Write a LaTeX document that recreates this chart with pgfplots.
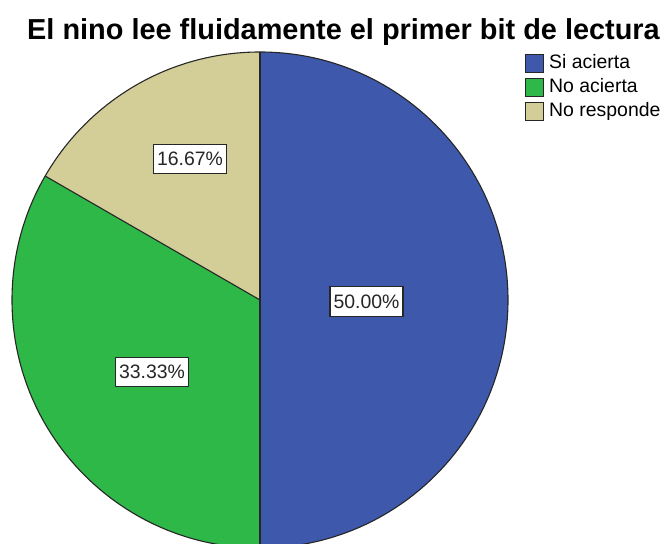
\documentclass[border=0pt]{standalone}
\usepackage{pgfplots}
\pgfplotsset{compat=1.18}
\usepackage{pgfplotstable}
\usepackage{fontspec}
\setmainfont{Liberation Sans}
\definecolor{siblue}{HTML}{3E58AC}
\definecolor{nogreen}{HTML}{2EB848}
\definecolor{notan}{HTML}{D3CE97}
\pgfplotstableread{
value
50.00
33.33
16.67
}\piedata
\pgfplotstablegetelem{0}{value}\of\piedata \let\va\pgfplotsretval
\pgfplotstablegetelem{1}{value}\of\piedata \let\vb\pgfplotsretval
\pgfplotstablegetelem{2}{value}\of\piedata \let\vc\pgfplotsretval
\pgfmathsetmacro{\aA}{90}
\pgfmathsetmacro{\aB}{90-3.6*\va}
\pgfmathsetmacro{\aC}{\aB-3.6*\vb}
\pgfmathsetmacro{\aD}{\aC-3.6*\vc}
\newcommand{\pct}[1]{\pgfmathprintnumber[fixed,fixed zerofill,precision=2,assume math mode=true]{#1}\%}
\begin{document}
\begin{tikzpicture}
\begin{axis}[
  at={(0,0)}, anchor=south west,
  scale only axis, width=663bp, height=544bp,
  xmin=0, xmax=663, ymin=0, ymax=544,
  hide axis, clip=false,
  legend style={at={(axis cs:525,490.5)}, anchor=north west, draw=none, fill=none,
    font=\fontsize{19.5}{21}\selectfont, row sep=5bp, column sep=5bp, inner sep=0pt,
    nodes={inner sep=0pt, text height=14bp, text depth=4bp}},
  legend cell align=left,
  legend image code/.code={\draw[#1] (0bp,-9bp) rectangle (18bp,9bp);},
]
\addlegendimage{fill=siblue, draw=black!85, line width=1bp}
\addlegendentry{Si acierta}
\addlegendimage{fill=nogreen, draw=black!85, line width=1bp}
\addlegendentry{No acierta}
\addlegendimage{fill=notan, draw=black!85, line width=1bp}
\addlegendentry{No responde}
\fill[siblue] (axis cs:260,244) -- ++(\aA:248bp) arc[start angle=\aA, end angle=\aB, radius=248bp] -- cycle;
\fill[nogreen] (axis cs:260,244) -- ++(\aB:248bp) arc[start angle=\aB, end angle=\aC, radius=248bp] -- cycle;
\fill[notan] (axis cs:260,244) -- ++(\aC:248bp) arc[start angle=\aC, end angle=\aD, radius=248bp] -- cycle;
\draw[black!85, line width=1.1bp] (axis cs:260,244) circle[radius=248bp];
\draw[black!85, line width=1.1bp] (axis cs:260,244) -- ++(\aA:248bp);
\draw[black!85, line width=1.1bp] (axis cs:260,244) -- ++(\aB:248bp);
\draw[black!85, line width=1.1bp] (axis cs:260,244) -- ++(\aC:248bp);
\tikzset{lbl/.style={draw=black!85, fill=white, line width=1.2bp, inner xsep=3.5bp, inner ysep=8bp,
  font=\fontsize{19.5}{21}\selectfont, text=black!85}}
\node[lbl] at (axis cs:190,385) {\pct{\vc}};
\node[lbl] at (axis cs:366.5,242.5) {\pct{\va}};
\node[lbl] at (axis cs:152,172) {\pct{\vb}};
\node[anchor=base, font=\fontsize{29}{31}\selectfont\bfseries] at (axis cs:343.5,504) {El nino lee fluidamente el primer bit de lectura};
\end{axis}
\pgfresetboundingbox
\useasboundingbox (0,0) rectangle (663bp,544bp);
\end{tikzpicture}
\end{document}
